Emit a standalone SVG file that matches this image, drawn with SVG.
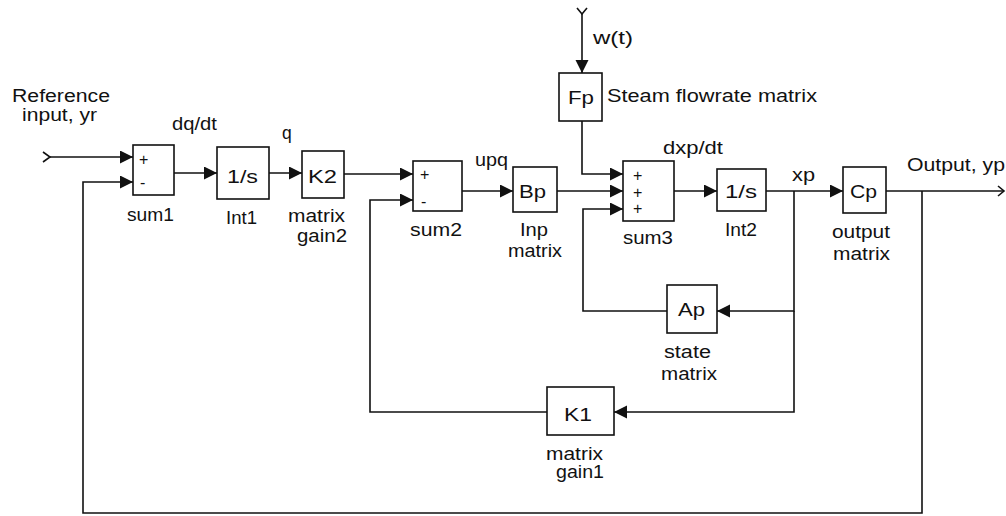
<svg xmlns="http://www.w3.org/2000/svg" width="1006" height="516" viewBox="0 0 1006 516">
<style>
  .blk { fill: #fff; stroke: #111; stroke-width: 1.6; }
  .ln { fill: none; stroke: #111; stroke-width: 1.6; }
  .ar { fill: none; stroke: #111; stroke-width: 1.6; marker-end: url(#arr); }
  text { font-family: "Liberation Sans", Arial, sans-serif; font-size: 17.5px; fill: #111; }
  .sg { font-size: 16px; }
</style>
<defs>
  <marker id="arr" markerUnits="userSpaceOnUse" markerWidth="14" markerHeight="14" refX="13" refY="6.5" orient="auto">
    <path d="M0,0 L13,6.5 L0,13 z" fill="#111"/>
  </marker>
</defs>
<rect width="1006" height="516" fill="#fff"/>

<g id="connectors">
  <path class="ln" d="M43,152 L50,157 L43,162"/>
  <path class="ar" d="M50,157 H133"/>
  <path class="ar" d="M174,173 H217"/>
  <path class="ar" d="M269,173 H302"/>
  <path class="ar" d="M344,174 H413"/>
  <path class="ar" d="M462,191 H513"/>
  <path class="ar" d="M557,191 H623"/>
  <path class="ln" d="M577,8 L582,14 L587,8"/>
  <path class="ar" d="M582,14 V73"/>
  <path class="ar" d="M582,121 V174 H623"/>
  <path class="ar" d="M674,191 H717"/>
  <path class="ar" d="M766,191 H843"/>
  <path class="ln" d="M886,191 H1004"/>
  <path class="ln" d="M998,186 L1004,191 L998,196"/>
  <path class="ar" d="M794,191 V311 H717"/>
  <path class="ar" d="M667,311 H583 V209 H623"/>
  <path class="ar" d="M794,311 V412 H614"/>
  <path class="ar" d="M547,412 H370 V200 H413"/>
  <path class="ar" d="M922,191 V513 H83 V182 H133"/>
</g>

<g id="labels">
  <text x="12" y="102" textLength="98" lengthAdjust="spacingAndGlyphs">Reference</text>
  <text x="22" y="121" textLength="75" lengthAdjust="spacingAndGlyphs">input, yr</text>
  <text x="172" y="130" textLength="45" lengthAdjust="spacingAndGlyphs">dq/dt</text>
  <text x="282" y="139">q</text>
  <text x="475" y="166" textLength="33" lengthAdjust="spacingAndGlyphs">upq</text>
  <text x="593" y="44" textLength="40" lengthAdjust="spacingAndGlyphs">w(t)</text>
  <text x="663" y="154" textLength="60" lengthAdjust="spacingAndGlyphs">dxp/dt</text>
  <text x="792" y="181" textLength="23" lengthAdjust="spacingAndGlyphs">xp</text>
  <text x="907" y="171" textLength="98" lengthAdjust="spacingAndGlyphs">Output, yp</text>
</g>

<g id="sum1">
  <rect class="blk" x="133" y="145" width="41" height="50"/>
  <text class="sg" x="139" y="165">+</text>
  <text class="sg" x="140" y="188">-</text>
  <text x="127" y="221" textLength="47" lengthAdjust="spacingAndGlyphs">sum1</text>
</g>

<g id="int1">
  <rect class="blk" x="217" y="147" width="52" height="52"/>
  <text x="227" y="183" textLength="31" lengthAdjust="spacingAndGlyphs">1/s</text>
  <text x="226" y="224" textLength="31" lengthAdjust="spacingAndGlyphs">Int1</text>
</g>

<g id="gain2">
  <rect class="blk" x="302" y="151" width="42" height="47"/>
  <text x="308" y="183" textLength="29" lengthAdjust="spacingAndGlyphs">K2</text>
  <text x="288" y="222" textLength="57" lengthAdjust="spacingAndGlyphs">matrix</text>
  <text x="297" y="242" textLength="50" lengthAdjust="spacingAndGlyphs">gain2</text>
</g>

<g id="sum2">
  <rect class="blk" x="413" y="161" width="49" height="50"/>
  <text class="sg" x="420" y="180">+</text>
  <text class="sg" x="421" y="207">-</text>
  <text x="410" y="236" textLength="52" lengthAdjust="spacingAndGlyphs">sum2</text>
</g>

<g id="inp-matrix">
  <rect class="blk" x="513" y="167" width="44" height="45"/>
  <text x="519" y="198" textLength="27" lengthAdjust="spacingAndGlyphs">Bp</text>
  <text x="520" y="236" textLength="28" lengthAdjust="spacingAndGlyphs">Inp</text>
  <text x="508" y="257" textLength="54" lengthAdjust="spacingAndGlyphs">matrix</text>
</g>

<g id="steam-flowrate-matrix">
  <rect class="blk" x="559" y="73" width="43" height="48"/>
  <text x="568" y="104" textLength="26" lengthAdjust="spacingAndGlyphs">Fp</text>
  <text x="607" y="102" textLength="210" lengthAdjust="spacingAndGlyphs">Steam flowrate matrix</text>
</g>

<g id="sum3">
  <rect class="blk" x="623" y="161" width="51" height="60"/>
  <text class="sg" x="633" y="181">+</text>
  <text class="sg" x="633" y="198">+</text>
  <text class="sg" x="633" y="214">+</text>
  <text x="623" y="244" textLength="50" lengthAdjust="spacingAndGlyphs">sum3</text>
</g>

<g id="int2">
  <rect class="blk" x="717" y="169" width="49" height="42"/>
  <text x="725" y="198" textLength="32" lengthAdjust="spacingAndGlyphs">1/s</text>
  <text x="725" y="236" textLength="32" lengthAdjust="spacingAndGlyphs">Int2</text>
</g>

<g id="output-matrix">
  <rect class="blk" x="843" y="167" width="43" height="46"/>
  <text x="850" y="198" textLength="27" lengthAdjust="spacingAndGlyphs">Cp</text>
  <text x="832" y="238" textLength="58" lengthAdjust="spacingAndGlyphs">output</text>
  <text x="833" y="260" textLength="57" lengthAdjust="spacingAndGlyphs">matrix</text>
</g>

<g id="state-matrix">
  <rect class="blk" x="667" y="285" width="50" height="48"/>
  <text x="678" y="316" textLength="27" lengthAdjust="spacingAndGlyphs">Ap</text>
  <text x="664" y="358" textLength="47" lengthAdjust="spacingAndGlyphs">state</text>
  <text x="661" y="380" textLength="56" lengthAdjust="spacingAndGlyphs">matrix</text>
</g>

<g id="gain1">
  <rect class="blk" x="547" y="387" width="67" height="48"/>
  <text x="564" y="421" textLength="28" lengthAdjust="spacingAndGlyphs">K1</text>
  <text x="546" y="460" textLength="57" lengthAdjust="spacingAndGlyphs">matrix</text>
  <text x="556" y="478" textLength="48" lengthAdjust="spacingAndGlyphs">gain1</text>
</g>
</svg>
